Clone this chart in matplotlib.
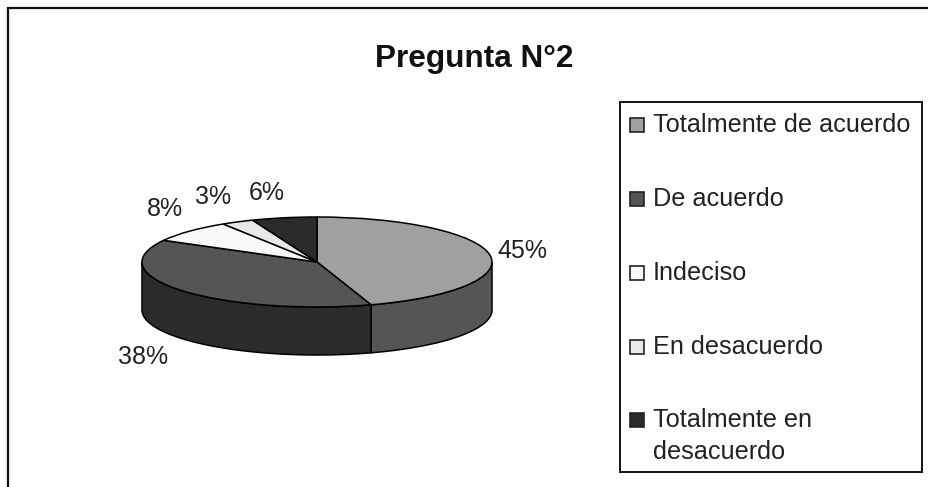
import numpy as np
import matplotlib
matplotlib.use('Agg')
import matplotlib.pyplot as plt
from matplotlib.patches import Rectangle

# Data
title = 'Pregunta N°2'
categories = ['Totalmente de acuerdo', 'De acuerdo', 'Indeciso', 'En desacuerdo',
              'Totalmente en\ndesacuerdo']
values = [45, 38, 8, 3, 6]
top_colors = ['#a0a0a0', '#555555', '#f8f8f8', '#e8e8e8', '#2b2b2b']
side_colors = ['#555555', '#2b2b2b', '#ffffff', '#ffffff', '#ffffff']

plt.rcParams['font.family'] = ['Liberation Sans', 'DejaVu Sans']

W, H = 929, 487
fig = plt.figure(figsize=(W / 100, H / 100), dpi=100, facecolor='white')

# overlay in pixel coordinates for frame, title, labels and legend
px = fig.add_axes([0, 0, 1, 1], zorder=3)
px.set_xlim(0, W)
px.set_ylim(H, 0)
px.axis('off')

# pie geometry in pixels: ellipse centre (317, 262), semi axes 175 x 45, depth 48
cx, cy, a, b, depth = 317, 262, 175, 45, 48
ax = fig.add_axes([(cx - a) / W, 1 - (cy + b + depth) / H, 2 * a / W, (2 * b + depth) / H])
ax.set_facecolor('none')

# side wall: only the part of the rim facing the viewer (90 to 270 deg clockwise from top)
d = depth / b
edges = np.cumsum([0] + values) * 3.6
for start, end, col in zip(edges[:-1], edges[1:], side_colors):
    s, e = max(start, 90), min(end, 270)
    if e <= s:
        continue
    t = np.radians(np.linspace(s, e, 80))
    xs = np.sin(t)
    ys = np.cos(t)
    ax.fill(np.r_[xs, xs[::-1]], np.r_[ys, ys[::-1] - d], facecolor=col,
            edgecolor='black', linewidth=1.1, clip_on=False, zorder=1)

wedges, _ = ax.pie(values, colors=top_colors, startangle=90, counterclock=False, radius=1,
                   wedgeprops={'edgecolor': 'black', 'linewidth': 1.1, 'clip_on': False, 'zorder': 2})
ax.set_aspect('auto')
ax.set_xlim(-1, 1)
ax.set_ylim(-1 - d, 1)

# outer chart frame, only top and left show
px.plot([8.5, W], [7.5, 7.5], color='#111111', lw=1.6, solid_capstyle='butt')
px.plot([8.5, 8.5], [7, H], color='#111111', lw=1.6, solid_capstyle='butt')

px.text(474, 67, title, ha='center', va='baseline', fontsize=22.7, fontweight='bold', color='#111111')

# percentage labels
label_xy = [(522, 251), (143, 357), (165, 209), (213, 197), (267, 193)]
for v, (x, y) in zip(values, label_xy):
    px.text(x, y, f'{v}%', ha='center', va='center', fontsize=18, color='#222222')

# legend
px.add_patch(Rectangle((620.5, 101.5), 302, 370, facecolor='white', edgecolor='#111111', lw=1.4))
baselines = [132, 206, 280, 354, 427]
for name, col, base in zip(categories, top_colors, baselines):
    px.add_patch(Rectangle((630.5, base - 14), 14, 14, facecolor=col, edgecolor='#222222', lw=1.2))
    for i, line in enumerate(name.split('\n')):
        px.text(653, base + i * 32, line, ha='left', va='baseline', fontsize=18.2, color='#222222')

fig.savefig('out.png', dpi=100)
